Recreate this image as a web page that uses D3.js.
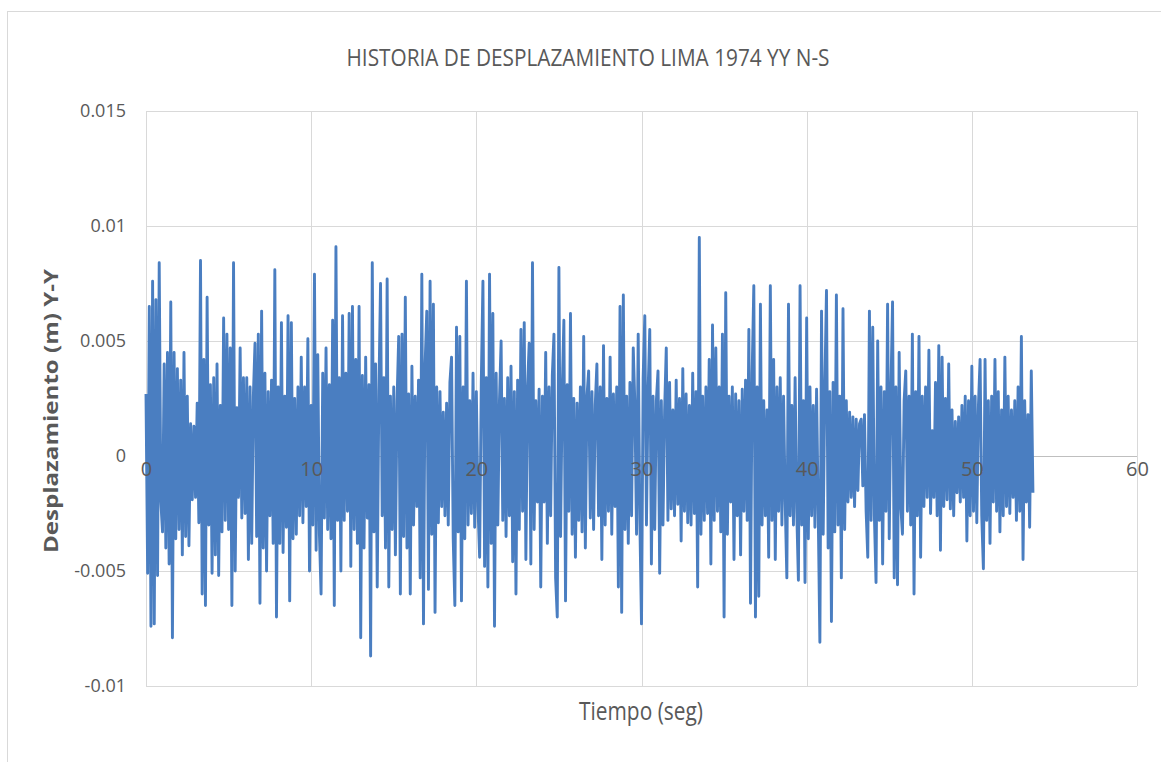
<!DOCTYPE html>
<html>
<head>
<meta charset="utf-8">
<script src="https://cdn.jsdelivr.net/npm/d3@7"></script>
<style>
  html, body { margin: 0; padding: 0; background: #ffffff; }
  svg { display: block; font-family: "Open Sans", "DejaVu Sans", sans-serif; }
</style>
</head>
<body>
<svg id="chart" width="1161" height="762"></svg>
<script>
// Texts
const titulo = "HISTORIA DE DESPLAZAMIENTO LIMA 1974 YY N-S";
const tituloX = "Tiempo (seg)";
const tituloY = "Desplazamiento (m) Y-Y";

// Axis ticks
const xTicks = [0, 10, 20, 30, 40, 50, 60];
const xTickLabels = ["0", "10", "20", "30", "40", "50", "60"];
const yTicks = [-0.01, -0.005, 0, 0.005, 0.01, 0.015];
const yTickLabels = ["-0.01", "-0.005", "0", "0.005", "0.01", "0.015"];

// Record sampled every 0.1 s, values in millimetres (one row per second)
const pasoTiempo = 0.1;
const desplazamientoMm = [
  2.7, -5.1, 6.5, -7.4, 7.6, -7.3, 6.8, -5.2, 8.4, -2.0,
  -3.3, 4.0, -4.0, 4.5, -4.7, 6.7, -7.9, 4.5, -3.6, 3.8,
  -3.2, 3.3, -4.3, 4.5, -3.5, 2.6, -3.9, 1.4, -1.9, 1.3,
  -1.8, 2.3, -2.9, 8.5, -6.0, 4.2, -6.5, 6.9, -3.0, 3.1,
  -5.1, 3.4, -4.3, 4.0, -5.2, 2.2, -3.3, 6.0, -2.8, 5.3,
  -3.2, 4.7, -6.5, 8.4, -5.0, 2.1, -1.8, 4.7, -2.7, 3.4,
  -2.5, 3.4, -4.5, 3.0, -3.8, 2.6, 4.9, -3.5, 5.3, -6.4,
  6.3, -4.0, 3.6, -5.0, 2.8, -2.6, 3.3, -3.8, 8.1, -7.0,
  3.0, -3.8, 5.8, -4.2, 2.6, -3.1, 6.1, -6.3, 5.8, -3.6,
  2.5, -3.4, 3.0, -2.6, 4.3, -2.9, 3.0, -2.2, 5.1, -5.0,
  2.2, -3.0, 7.9, -4.1, 4.4, -3.4, -6.0, 3.6, -2.7, 4.7,
  -3.2, 3.1, -3.6, 5.9, -6.5, 9.1, -2.8, 3.4, -5.0, 6.1,
  -2.8, 3.6, -2.4, 6.2, -4.8, 6.5, -3.2, 4.2, -3.8, 6.5,
  -7.9, 3.5, -4.0, 4.3, -2.7, 3.1, -8.7, 8.4, -3.3, 4.0,
  -5.7, 2.8, 7.5, -2.6, 3.4, -4.0, 7.7, -5.7, 2.6, -3.2,
  3.0, -4.3, 2.4, 5.2, -6.0, 5.3, -3.5, 6.9, -4.0, 2.7,
  -6.0, 3.9, -3.0, 2.6, -2.2, 3.3, -5.3, 7.9, -7.3, 4.0,
  6.3, -5.8, 7.6, -3.4, 6.6, -6.8, 3.0, -2.9, 2.8, -2.2,
  1.9, -2.6, 2.3, -3.0, 3.2, 4.3, -3.6, -6.5, 5.6, -3.3,
  5.2, -6.3, 3.0, -3.6, 7.6, -3.0, 2.4, -2.5, 3.6, -3.1,
  2.8, -2.2, -4.4, 3.2, 7.6, -4.8, 3.4, -5.7, 7.9, -3.8,
  6.2, -7.4, 3.6, -3.0, 2.4, 5.0, -2.8, 2.5, -3.5, 3.4,
  -2.6, 3.9, -4.6, 2.8, -6.0, 3.3, -3.2, 5.5, -2.4, 5.8,
  -4.5, 3.0, 4.9, -4.7, 8.4, -3.2, 2.4, -2.0, 2.9, -5.7,
  2.6, -2.0, 4.5, -3.8, 3.0, -2.6, 3.5, 5.3, -5.3, -7.0,
  8.2, -3.5, 2.8, 5.9, -6.3, 3.1, -2.4, 6.2, -3.4, 2.5,
  -4.4, 2.3, -2.8, 3.0, -3.3, 5.2, -4.0, 2.6, 3.7, -2.7,
  2.8, -3.2, 2.2, 4.0, -2.6, 3.0, -4.5, 4.8, -3.0, 2.5,
  -2.4, 4.3, -3.4, 2.7, -2.2, 3.0, -5.7, 6.5, -6.8, 7.0,
  -3.2, 2.6, -3.8, 3.2, -2.6, 4.7, 2.2, -3.4, 5.3, -2.8,
  -7.3, 3.4, 6.1, -3.0, 2.8, 5.5, -4.7, 2.6, -3.2, 2.4,
  3.7, -5.1, 2.4, -3.0, 2.0, 4.7, -2.8, 3.2, -2.3, 2.0,
  -2.6, 3.3, -2.1, 2.5, -3.7, 3.8, -2.4, 2.7, -2.9, 2.2,
  -3.0, 3.6, -2.5, 2.8, -5.7, 9.5, -3.4, 2.6, -2.8, 3.0,
  -2.5, 4.2, -4.7, 5.7, -2.8, 4.7, -2.4, 3.0, -3.3, 5.3,
  -7.0, 7.1, -3.4, 2.6, -2.0, 3.0, -4.5, 2.7, -2.6, 2.4,
  -4.3, 2.9, -2.4, 3.3, -2.8, 5.5, -6.4, 3.6, 7.4, -7.0,
  3.0, -6.1, 6.6, -3.0, 2.4, -2.6, 2.0, -4.4, 7.4, -2.8,
  4.2, -4.5, 3.0, -2.4, 3.4, -3.0, 2.6, -2.0, -5.3, 6.6,
  -2.6, 2.2, -3.0, 3.4, -2.4, -5.4, 7.4, -3.0, 2.4, -5.5,
  6.0, -3.6, 3.0, -2.6, 2.2, -3.1, 2.9, -2.5, -8.1, 6.3,
  -3.4, 3.0, 7.2, -4.0, 2.8, -7.2, 3.2, -3.3, 7.0, -3.0,
  2.6, -5.3, 6.4, -3.2, 2.4, -2.0, 1.9, -1.8, 1.7, -2.2,
  1.6, -1.5, 1.4, 1.6, -1.3, 1.8, -2.4, -4.4, 6.3, -2.8,
  5.6, -2.6, -5.5, 5.0, -2.8, 3.0, -4.7, 2.8, -2.4, 6.6,
  -3.6, 2.8, 6.7, -5.3, 3.0, -5.6, 4.5, -2.2, -3.4, 2.4,
  3.7, -2.4, 2.6, -3.0, 5.3, -6.0, 2.8, -2.6, 5.2, -4.4,
  2.6, -2.2, 3.0, -1.8, 4.6, -2.5, 1.1, -1.8, 3.2, -2.6,
  4.8, -4.1, 4.3, -2.2, 2.5, -1.9, 4.0, -2.3, 2.0, -2.6,
  1.5, -1.6, 1.7, -2.0, 2.2, -1.8, 2.6, -3.7, 2.4, -2.6,
  3.9, -2.4, 2.6, -2.9, 2.2, 4.2, -2.6, -4.9, 4.2, -2.8,
  2.4, -3.8, 2.6, -2.0, 4.2, -2.4, 2.8, -3.3, 2.0, -2.6,
  4.3, -2.2, 2.6, -2.5, 2.0, -1.8, 2.4, -2.8, 3.0, -2.4,
  5.2, -4.5, 2.4, -2.0, 1.8, -3.1, 3.7, -1.6
];

// Time (s) and displacement (m) pairs
const serie = desplazamientoMm.map((v, i) => ({ t: i * pasoTiempo, d: v / 1000 }));

const svg = d3.select("#chart");
const plot = { left: 146, right: 1137, top: 111, bottom: 686 };
const textColor = "#595959";
const gridColor = "#d9d9d9";

const x = d3.scaleLinear().domain([0, 60]).range([plot.left, plot.right]);
const y = d3.scaleLinear().domain([-0.01, 0.015]).range([plot.bottom, plot.top]);

// Chart frame
svg.append("rect")
  .attr("x", 7.5).attr("y", 11.5)
  .attr("width", 1200).attr("height", 800)
  .attr("fill", "none").attr("stroke", gridColor).attr("stroke-width", 1);

// Title
svg.append("text")
  .attr("x", 588).attr("y", 66)
  .attr("text-anchor", "middle")
  .attr("font-size", 23)
  .attr("fill", textColor)
  .attr("textLength", 483)
  .attr("lengthAdjust", "spacingAndGlyphs")
  .text(titulo);

// Gridlines
const grid = svg.append("g").attr("shape-rendering", "crispEdges");
grid.selectAll("line.h")
  .data(yTicks.filter(v => v !== 0))
  .join("line")
  .attr("class", "h")
  .attr("x1", plot.left).attr("x2", plot.right)
  .attr("y1", d => Math.round(y(d)) + 0.5).attr("y2", d => Math.round(y(d)) + 0.5)
  .attr("stroke", gridColor);
grid.selectAll("line.v")
  .data(xTicks)
  .join("line")
  .attr("class", "v")
  .attr("x1", d => Math.round(x(d)) + 0.5).attr("x2", d => Math.round(x(d)) + 0.5)
  .attr("y1", plot.top).attr("y2", plot.bottom)
  .attr("stroke", gridColor);

// Horizontal axis line at zero
grid.append("line")
  .attr("x1", plot.left).attr("x2", plot.right)
  .attr("y1", Math.round(y(0)) + 0.5).attr("y2", Math.round(y(0)) + 0.5)
  .attr("stroke", "#bfbfbf");

// Displacement history
const linea = d3.line().x(d => x(d.t)).y(d => y(d.d));
svg.append("path")
  .datum(serie)
  .attr("d", linea)
  .attr("fill", "none")
  .attr("stroke", "#4a7ec1")
  .attr("stroke-width", 2.9)
  .attr("stroke-linejoin", "round");

// Y axis labels
const yAxis = d3.axisLeft(y)
  .tickValues(yTicks)
  .tickFormat((d, i) => yTickLabels[i])
  .tickSize(0)
  .tickPadding(20);
const gy = svg.append("g").attr("transform", `translate(${plot.left},0)`).call(yAxis);
gy.select(".domain").remove();
gy.selectAll("text")
  .attr("font-family", "\"Open Sans\", sans-serif")
  .attr("font-size", 18)
  .attr("fill", textColor);

// X axis labels, just below the zero line
const xAxis = d3.axisBottom(x)
  .tickValues(xTicks)
  .tickFormat((d, i) => xTickLabels[i])
  .tickSize(0)
  .tickPadding(6);
const gx = svg.append("g").attr("transform", `translate(0,${y(0)})`).call(xAxis);
gx.select(".domain").remove();
gx.selectAll("text")
  .attr("font-family", "\"Open Sans\", sans-serif")
  .attr("font-size", 20)
  .attr("fill", textColor);

// Axis titles
svg.append("text")
  .attr("x", 641).attr("y", 720)
  .attr("text-anchor", "middle")
  .attr("font-size", 26)
  .attr("fill", textColor)
  .attr("textLength", 124)
  .attr("lengthAdjust", "spacingAndGlyphs")
  .text(tituloX);

svg.append("text")
  .attr("transform", "translate(58,411) rotate(-90)")
  .attr("text-anchor", "middle")
  .attr("font-size", 20)
  .attr("font-weight", "bold")
  .attr("fill", textColor)
  .attr("textLength", 284)
  .attr("lengthAdjust", "spacingAndGlyphs")
  .text(tituloY);
</script>
</body>
</html>
